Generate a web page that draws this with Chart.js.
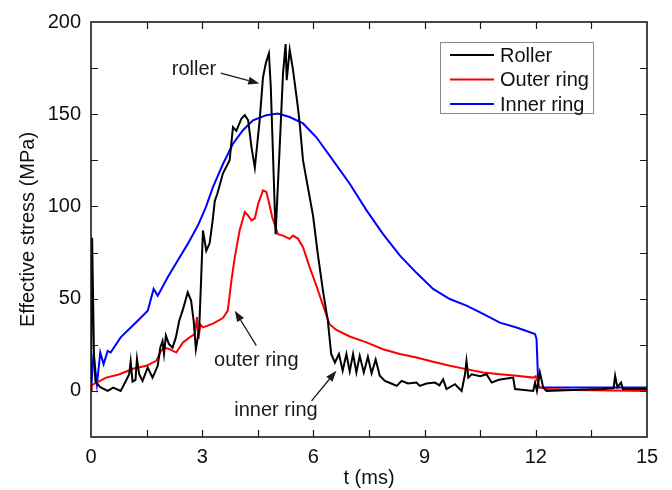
<!DOCTYPE html>
<html>
<head>
<meta charset="utf-8">
<script src="https://cdn.jsdelivr.net/npm/chart.js@4.4.1/dist/chart.umd.min.js"></script>
<style>
  html, body { margin: 0; padding: 0; background: #fff; }
  #wrap { width: 672px; height: 490px; }
</style>
</head>
<body>
<div id="wrap"><canvas id="chart"></canvas></div>
<script>
// Effective stress vs time

const rollerT = [0, 0.03, 0.08, 0.12, 0.25, 0.45, 0.6, 0.8, 0.94, 1.03, 1.07, 1.12, 1.2, 1.24, 1.3, 1.39,
    1.53, 1.66, 1.8, 1.87, 1.93, 1.97, 2.02, 2.1, 2.2, 2.29, 2.38, 2.47, 2.61, 2.7, 2.77, 2.83, 2.92,
    2.97, 3.02, 3.11, 3.2, 3.28, 3.34, 3.41, 3.56, 3.74, 3.83, 3.92, 4.06, 4.15, 4.24, 4.33, 4.42,
    4.55, 4.64, 4.72, 4.8, 4.85, 4.98, 5.09, 5.18, 5.25, 5.28, 5.36, 5.45, 5.58, 5.63, 5.72, 5.85,
    5.99, 6.12, 6.26, 6.39, 6.48, 6.58, 6.69, 6.79, 6.89, 6.98, 7.07, 7.16, 7.25, 7.36, 7.47, 7.57,
    7.68, 7.79, 7.93, 8.1, 8.25, 8.38, 8.55, 8.78, 8.87, 9.05, 9.28, 9.4, 9.5, 9.59, 9.82, 10.0,
    10.09, 10.13, 10.18, 10.27, 10.5, 10.67, 10.81, 11.0, 11.39, 11.44, 11.93, 11.98, 12.03, 12.11,
    12.2, 12.29, 13.0, 13.8, 14.1, 14.14, 14.2, 14.3, 14.35, 15];
const rollerY = [0, 83, 20, 5, 2, 0, 1.8, 0, 5.4, 9, 16, 5, 6, 17.4, 9, 5.4,
    12.7, 7.2, 13.6, 23.5, 27, 20, 30, 25.5, 23.5, 29, 38, 43.5, 53.4, 49, 38, 22.6, 34,
    60, 87, 76, 80, 92, 103, 107, 118, 125, 143, 141, 147.7, 149.5, 146.7, 132, 121,
    146.7, 170, 178, 183, 165, 85, 132, 172, 188, 168.5, 185, 174, 154, 145, 125, 110.5,
    95, 74, 54, 38, 20, 15.4, 20, 11, 20, 10.5, 20, 10, 19, 10, 18.5, 9.5,
    17, 8.2, 5.4, 4, 2.7, 5.4, 4, 4.5, 2.7, 4, 4.5, 3, 6.3, 1, 3.6, 0,
    9, 16.3, 7.2, 9, 8, 9, 4.5, 6, 7.2, 1, 0, 4.5, 0, 10,
    1.8, 0, 0.5, 1, 1.5, 8.2, 2, 4.5, 1, 1];

const outerT = [0, 0.02, 0.1, 0.41, 0.77, 1.13, 1.49, 1.76, 1.89, 1.98, 2.12, 2.3, 2.48, 2.66, 2.8,
    2.86, 2.9, 2.95, 3.02, 3.29, 3.56, 3.69, 3.79, 3.88, 4.01, 4.15, 4.24, 4.33, 4.42, 4.51, 4.64,
    4.73, 4.8, 4.89, 4.98, 5.04, 5.18, 5.36, 5.45, 5.58, 5.72, 5.9, 6.08, 6.31, 6.44, 6.62, 6.98,
    7.43, 7.88, 8.33, 8.78, 9.23, 9.68, 10.13, 10.58, 11.03, 11.48, 11.93, 12.0, 12.1, 12.29, 13, 15];
const outerY = [0, 3, 4, 7.2, 9, 12, 13.6, 16.3, 21.7, 23.5, 22.6, 20.8, 26.3, 29, 30.8,
    40, 28, 36, 34.4, 36.5, 39.5, 43.5, 60, 72.5, 87, 97, 95, 92.4, 93.5, 101.5, 108.7,
    107.8, 102.3, 94.2, 88.8, 85, 84.2, 82.4, 84.2, 82.6, 77.9, 67, 57, 43.5, 36, 33, 29.5,
    26.3, 22.6, 20, 18.1, 15.8, 13.6, 11.8, 10, 9, 8.2, 7.2, 8, 2, 1, 0.5, 0];

const innerT = [0, 0.07, 0.16, 0.25, 0.34, 0.45, 0.53, 0.8, 1.26, 1.53, 1.69, 1.8, 2.07, 2.34, 2.61,
    2.88, 3.1, 3.29, 3.56, 3.83, 4.1, 4.37, 4.73, 5.04, 5.36, 5.72, 6.08, 6.53, 6.98, 7.43, 7.88,
    8.33, 8.78, 9.23, 9.68, 10.13, 10.58, 11.03, 11.48, 11.98, 12.02, 12.07, 15];
const innerY = [0, 20, 3.6, 20.8, 14.5, 21.7, 20.8, 29, 38, 43.5, 55.3, 51.6, 61.6, 70.7, 79.7,
    89.5, 99.6, 110.5, 123, 134, 141.3, 146.7, 149.5, 150.4, 148.5, 145, 137.5, 125, 112.3, 98, 85,
    73.5, 64, 55.3, 49.8, 46.2, 41.7, 37, 34.4, 30.8, 28, 1.8, 1.8];

const seriesNames = ['Roller', 'Outer ring', 'Inner ring'];
const xLabelStep = 3;
const yLabelStep = 50;

// texte des annotations, ancré en coordonnées de données (t, MPa)
const notes = [
    { text: 'roller',     at: [2.78, 174],  from: [3.5, 172.3], to: [4.54, 166.7] },
    { text: 'outer ring', at: [4.46, 16.3], from: [4.46, 24.5], to: [3.88, 43.5] },
    { text: 'inner ring', at: [4.99, -10.5], from: [5.95, -5.4], to: [6.62, 10.9] },
];

const FONT = '"Liberation Sans", Arial, sans-serif';
const pairs = (t, v) => t.map((x, i) => ({ x, y: v[i] }));

// ── Cadre, graduations internes, légende et flèches ─────
const decorations = {
    id: 'decorations',
    afterDatasetsDraw(chart) {
        const { ctx, chartArea: a, scales: { x, y } } = chart;
        ctx.save();

        ctx.strokeStyle = '#1a1a1a';
        ctx.lineWidth = 1.2;
        ctx.beginPath();
        for (const t of x.ticks) {
            if (t.value <= x.min || t.value >= x.max) continue;
            const px = Math.round(x.getPixelForValue(t.value)) + 0.5;
            ctx.moveTo(px, a.bottom); ctx.lineTo(px, a.bottom - 7);
            ctx.moveTo(px, a.top); ctx.lineTo(px, a.top + 7);
        }
        for (const t of y.ticks) {
            if (t.value <= y.min || t.value >= y.max) continue;
            const py = Math.round(y.getPixelForValue(t.value)) + 0.5;
            ctx.moveTo(a.left, py); ctx.lineTo(a.left + 7, py);
            ctx.moveTo(a.right, py); ctx.lineTo(a.right - 7, py);
        }
        ctx.stroke();

        ctx.lineWidth = 1.6;
        ctx.strokeRect(a.left, a.top, a.right - a.left, a.bottom - a.top);

        // légende
        const bx = a.right - 207, by = a.top + 20, bw = 153, bh = 71;
        ctx.fillStyle = '#fff';
        ctx.fillRect(bx, by, bw, bh);
        ctx.strokeStyle = '#8a8a8a';
        ctx.lineWidth = 1;
        ctx.strokeRect(bx + 0.5, by + 0.5, bw, bh);
        ctx.font = `20px ${FONT}`;
        ctx.textBaseline = 'middle';
        ctx.textAlign = 'left';
        chart.data.datasets.forEach((ds, i) => {
            const ly = by + 13 + i * 24.5;
            ctx.strokeStyle = ds.borderColor;
            ctx.lineWidth = 2;
            ctx.beginPath();
            ctx.moveTo(bx + 10, ly); ctx.lineTo(bx + 54, ly);
            ctx.stroke();
            ctx.fillStyle = '#111';
            ctx.fillText(ds.label, bx + 60, ly + 1);
        });

        // annotations
        ctx.fillStyle = '#1a1a1a';
        ctx.strokeStyle = '#1a1a1a';
        ctx.textAlign = 'center';
        for (const n of notes) {
            ctx.fillText(n.text, x.getPixelForValue(n.at[0]), y.getPixelForValue(n.at[1]));
            const x0 = x.getPixelForValue(n.from[0]), y0 = y.getPixelForValue(n.from[1]);
            const x1 = x.getPixelForValue(n.to[0]), y1 = y.getPixelForValue(n.to[1]);
            const ang = Math.atan2(y1 - y0, x1 - x0);
            const hl = 11, hw = 4;
            ctx.lineWidth = 1.3;
            ctx.beginPath();
            ctx.moveTo(x0, y0);
            ctx.lineTo(x1 - hl * Math.cos(ang), y1 - hl * Math.sin(ang));
            ctx.stroke();
            ctx.beginPath();
            ctx.moveTo(x1, y1);
            ctx.lineTo(x1 - hl * Math.cos(ang) + hw * Math.sin(ang), y1 - hl * Math.sin(ang) - hw * Math.cos(ang));
            ctx.lineTo(x1 - hl * Math.cos(ang) - hw * Math.sin(ang), y1 - hl * Math.sin(ang) + hw * Math.cos(ang));
            ctx.closePath();
            ctx.fill();
        }
        ctx.restore();
    },
};

const isStep = (v, step) => Math.abs(v / step - Math.round(v / step)) < 1e-6;

new Chart(document.getElementById('chart'), {
    type: 'line',
    data: {
        datasets: [
            { label: seriesNames[0], data: pairs(rollerT, rollerY), borderColor: '#000000' },
            { label: seriesNames[1], data: pairs(outerT, outerY), borderColor: '#ff0000' },
            { label: seriesNames[2], data: pairs(innerT, innerY), borderColor: '#0000ff' },
        ],
    },
    options: {
        responsive: true,
        maintainAspectRatio: false,
        animation: false,
        layout: { padding: { left: 0, top: 22, right: 25, bottom: 0 } },
        elements: {
            line: { borderWidth: 2, tension: 0, fill: false },
            point: { radius: 0 },
        },
        plugins: { legend: { display: false }, tooltip: { enabled: false } },
        scales: {
            x: {
                type: 'linear',
                min: 0,
                max: 15,
                grid: { display: false, drawTicks: false },
                border: { display: false },
                ticks: {
                    stepSize: 1.5,
                    autoSkip: false,
                    maxRotation: 0,
                    padding: 8,
                    color: '#111',
                    font: { family: FONT, size: 20 },
                    callback: (v) => (isStep(v, xLabelStep) ? String(Math.round(v)) : ''),
                },
                title: {
                    display: true,
                    text: 't (ms)',
                    color: '#111',
                    font: { family: FONT, size: 20 },
                    padding: { top: 0, bottom: 0 },
                },
                afterFit: (scale) => { scale.height = 53; },
            },
            y: {
                min: -25,
                max: 200,
                grid: { display: false, drawTicks: false },
                border: { display: false },
                ticks: {
                    stepSize: 25,
                    autoSkip: false,
                    padding: 10,
                    color: '#111',
                    font: { family: FONT, size: 20 },
                    callback: (v) => (v >= 0 && isStep(v, yLabelStep) ? String(v) : ''),
                },
                title: {
                    display: true,
                    text: 'Effective stress (MPa)',
                    color: '#111',
                    font: { family: FONT, size: 20 },
                    padding: { top: 16, bottom: 0 },
                },
                afterFit: (scale) => { scale.width = 91; },
            },
        },
    },
    plugins: [decorations],
});
</script>
</body>
</html>
